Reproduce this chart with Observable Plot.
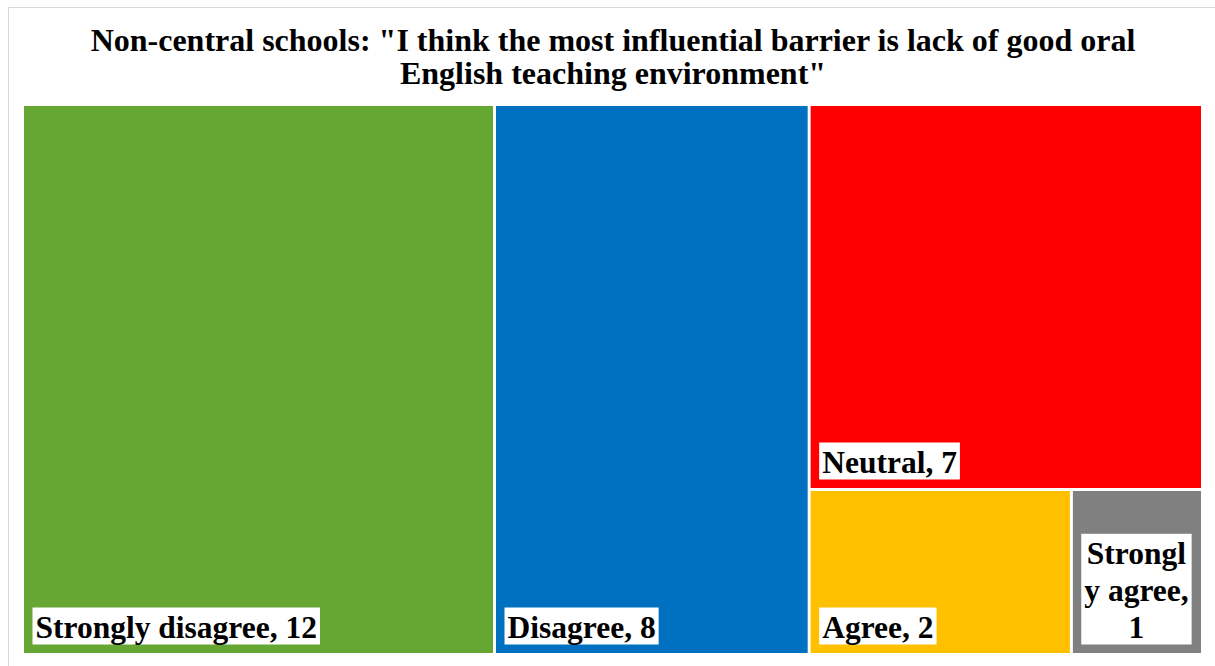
<!DOCTYPE html>
<html>
<head>
<meta charset="utf-8">
<script src="https://cdn.jsdelivr.net/npm/d3@7"></script>
<script src="https://cdn.jsdelivr.net/npm/@observablehq/plot@0.6"></script>
<style>
  html, body { margin: 0; padding: 0; background: #fff; overflow: hidden; }
  #wrap { position: relative; width: 1215px; height: 666px; }
  #border { position: absolute; left: 8px; top: 7px; width: 1220px; height: 670px; border: 1px solid #d9d9d9; box-sizing: border-box; }
  #chart { position: absolute; left: 0; top: 0; }
</style>
</head>
<body>
<div id="wrap"><div id="border"></div><div id="chart"></div></div>
<script>
const titleLines = ["Non-central schools: \"I think the most influential barrier is lack of good oral", "English teaching environment\""];
const categories = ["Strongly disagree", "Disagree", "Neutral", "Agree", "Strongly agree"];
const counts = [12, 8, 7, 2, 1];
const colors = ["#65A732", "#0070C0", "#FF0000", "#FFC000", "#808080"];

const W = 1215, H = 666;
const mL = 24, mR = 14, mT = 106, mB = 13;
const iw = W - mL - mR, ih = H - mT - mB;

const FONT = "'Liberation Serif', 'Times New Roman', serif";
const LABEL_SIZE = 31.5;
const TITLE_SIZE = 32;

// treemap layout (in pixel-sized data units)
const root = d3.hierarchy({children: categories.map((c, i) => ({name: c, value: counts[i]}))})
  .sum(d => d.value || 0)
  .sort((a, b) => b.value - a.value);
d3.treemap().size([iw, ih]).paddingInner(3).tile(d3.treemapSquarify.ratio(1))(root);

const canvas = document.createElement("canvas");
const ctx = canvas.getContext("2d");
ctx.font = `bold ${LABEL_SIZE}px 'Liberation Serif'`;
function wrapLabel(text, maxW) {
  const words = text.split(" ");
  const lines = [];
  let cur = "";
  for (const w of words) {
    const cand = cur ? cur + " " + w : w;
    if (ctx.measureText(cand).width <= maxW) { cur = cand; continue; }
    if (cur) { lines.push(cur); cur = ""; }
    let piece = "";
    for (const ch of w) {
      if (piece && ctx.measureText(piece + ch).width > maxW) { lines.push(piece); piece = ch; }
      else piece += ch;
    }
    cur = piece;
  }
  if (cur) lines.push(cur);
  return lines;
}

const cells = root.leaves().map(l => {
  const label = `${l.data.name}, ${l.data.value}`;
  const lines = wrapLabel(label, (l.x1 - l.x0) - 20);
  return {
    name: l.data.name, value: l.data.value,
    x0: l.x0, x1: l.x1, y0: l.y0, y1: l.y1,
    xm: (l.x0 + l.x1) / 2,
    text: lines.join("\n"), wrapped: lines.length > 1
  };
});
const single = cells.filter(d => !d.wrapped);
const multi = cells.filter(d => d.wrapped);

const chart = Plot.plot({
  width: W, height: H,
  marginLeft: mL, marginRight: mR, marginTop: mT, marginBottom: mB,
  style: {background: "transparent"},
  x: {domain: [0, iw], range: [mL, W - mR], axis: null},
  y: {domain: [0, ih], range: [mT, H - mB], axis: null},
  color: {type: "ordinal", domain: categories, range: colors},
  marks: [
    Plot.rect(cells, {x1: "x0", x2: "x1", y1: "y0", y2: "y1", fill: "name"}),
    Plot.text(single, {x: "x0", y: "y1", text: "text", textAnchor: "start", lineAnchor: "bottom",
      dx: 11, dy: -16, fontSize: LABEL_SIZE, fontWeight: "bold", fontFamily: FONT, fill: "#000", className: "lbl"}),
    Plot.text(multi, {x: "xm", y: "y1", text: "text", textAnchor: "middle", lineAnchor: "bottom", lineHeight: 1.17,
      dx: -1, dy: -16, fontSize: LABEL_SIZE, fontWeight: "bold", fontFamily: FONT, fill: "#000", className: "lbl"}),
    Plot.text([titleLines.join("\n")], {frameAnchor: "top", text: d => d, lineAnchor: "bottom", lineHeight: 33 / TITLE_SIZE,
      dy: -23, fontSize: TITLE_SIZE, fontWeight: "bold", fontFamily: FONT, fill: "#000"})
  ]
});
document.getElementById("chart").append(chart);

// white boxes behind the labels
chart.querySelectorAll(".lbl text").forEach(t => {
  const b = t.getBBox();
  const r = document.createElementNS("http://www.w3.org/2000/svg", "rect");
  r.setAttribute("x", b.x - 3);
  r.setAttribute("y", b.y - 2);
  r.setAttribute("width", b.width + 6);
  r.setAttribute("height", b.height + 2);
  r.setAttribute("fill", "#fff");
  const tr = t.getAttribute("transform");
  if (tr) r.setAttribute("transform", tr);
  t.parentNode.insertBefore(r, t);
});
</script>
</body>
</html>
